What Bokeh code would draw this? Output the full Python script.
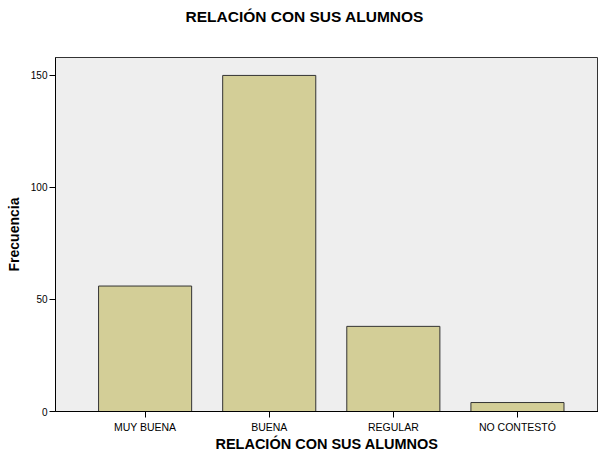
from bokeh.plotting import figure
from bokeh.models import Range1d, FixedTicker, ColumnDataSource, Title
from bokeh.embed import file_html
from bokeh.resources import INLINE

categories = ["MUY BUENA", "BUENA", "REGULAR", "NO CONTESTÓ"]
frecuencia = [56, 150, 38, 4]
y_ticks = [0, 50, 100, 150]
title_text = "RELACIÓN CON SUS ALUMNOS"
x_label = "RELACIÓN CON SUS ALUMNOS"
y_label = "Frecuencia"

positions = [i + 1 for i in range(len(categories))]
src = ColumnDataSource(dict(x=positions, top=frecuencia, cat=categories))

FONT = "Liberation Sans"

p = figure(width=598, height=456, output_backend="svg", toolbar_location=None,
           x_range=Range1d(0.278, 4.653), y_range=Range1d(0, 158),
           min_border_left=55, min_border_top=57, min_border_bottom=45,
           min_border_right=0)

p.title.text = title_text
p.title.align = "left"
p.title.offset = 130
p.title.standoff = 0
p.title.text_font = FONT
p.title.text_font_size = "15.5px"
p.title.text_font_style = "bold"
p.title.text_color = "black"

# empty spacer between the title and the plot area
p.add_layout(Title(text=" ", text_font_size="10px", standoff=20), "above")

p.vbar(x="x", top="top", width=0.75, bottom=0, source=src,
       fill_color="#D3CE97", line_color="#333333", line_width=1)

p.background_fill_color = "#EEEEEE"
p.border_fill_color = "white"
p.outline_line_color = "#333333"
p.outline_line_width = 1
p.grid.visible = False

p.xaxis.ticker = FixedTicker(ticks=positions)
p.xaxis.major_label_overrides = {pos: c for pos, c in zip(positions, categories)}
p.xaxis.axis_label = x_label
p.yaxis.ticker = FixedTicker(ticks=y_ticks)
p.yaxis.axis_label = y_label

for ax in (p.xaxis[0], p.yaxis[0]):
    ax.axis_line_color = "black"
    ax.axis_line_width = 1
    ax.major_tick_line_color = "black"
    ax.major_tick_line_width = 1
    ax.major_tick_out = 6
    ax.major_tick_in = 0
    ax.minor_tick_out = 0
    ax.minor_tick_in = 0
    ax.major_label_text_font = FONT
    ax.major_label_text_color = "black"
    ax.axis_label_text_font = FONT
    ax.axis_label_text_font_style = "bold"
    ax.axis_label_text_color = "black"

p.xaxis.major_label_text_font_size = "10.5px"
p.xaxis.major_label_standoff = 3
p.xaxis.axis_label_text_font_size = "14.5px"
p.xaxis.axis_label_standoff = 0
p.yaxis.major_label_text_font_size = "10px"
p.yaxis.major_label_standoff = 2
p.yaxis.axis_label_text_font_size = "14px"
p.yaxis.axis_label_standoff = 6

open("out.html", "w").write(file_html(p, INLINE))
